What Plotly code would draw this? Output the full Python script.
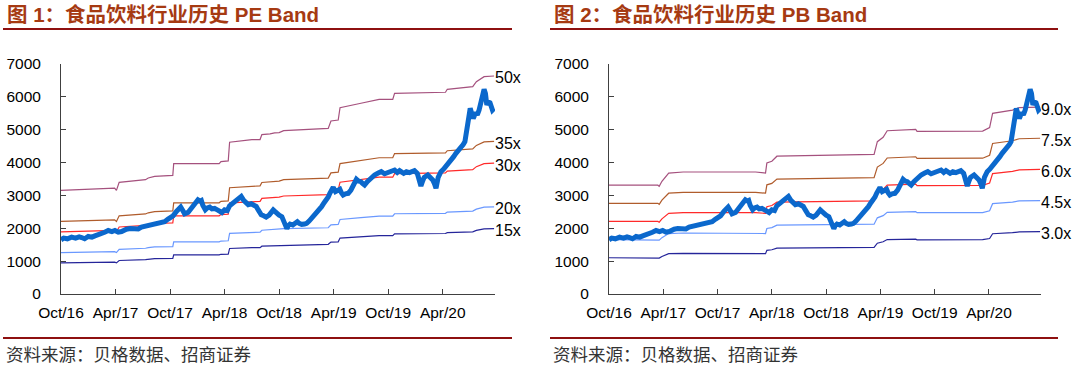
import plotly.graph_objects as go

# ---------------- data ----------------
# x values are months elapsed since Oct 2016
tick_months = [0, 6, 12, 18, 24, 30, 36, 42]
tick_labels = ["Oct/16", "Apr/17", "Oct/17", "Apr/18", "Oct/18", "Apr/19", "Oct/19", "Apr/20"]

idx_month = [0.0, 0.3, 0.7, 1.17, 1.6, 2.0, 2.27, 2.6, 3.0, 3.4, 3.73, 4.1, 4.46, 4.8, 5.2, 5.6, 5.93,
             6.3, 6.66, 7.0, 7.2, 7.6, 8.12, 8.5, 8.85, 9.2, 9.59, 10.0, 10.32, 10.7, 11.05, 11.4, 11.78,
             12.1, 12.33, 12.7, 13.17, 13.4, 13.6, 13.98, 14.2, 14.5, 14.8, 15.07, 15.3, 15.44, 15.6,
             15.88, 16.1, 16.36, 16.6, 16.9, 17.2, 17.45, 17.7, 18.0, 18.3, 18.55, 18.9, 19.28, 19.6,
             19.83, 20.1, 20.38, 20.6, 20.93, 21.2, 21.48, 21.7, 22.03, 22.3, 22.57, 22.9, 23.12, 23.35,
             23.56, 23.8, 24.0, 24.3, 24.5, 24.66, 24.85, 25.0, 25.2, 25.5, 25.75, 26.0, 26.2, 26.48,
             26.8, 27.03, 27.3, 27.58, 27.85, 28.12, 28.4, 28.67, 28.95, 29.22, 29.4, 29.58, 29.75,
             29.95, 30.2, 30.45, 30.68, 30.85, 31.04, 31.3, 31.6, 31.9, 32.2, 32.5, 32.7, 32.98, 33.2,
             33.4, 33.7, 33.96, 34.2, 34.5, 34.9, 35.24, 35.6, 35.97, 36.3, 36.7, 37.0, 37.25, 37.7,
             38.0, 38.34, 38.6, 38.89, 39.2, 39.4, 39.6, 39.8, 39.96, 40.35, 40.6, 40.9, 41.1, 41.26,
             41.5, 41.8, 42.1, 42.35, 42.6, 42.9, 43.2, 43.45, 43.7, 44.0, 44.25, 44.44, 44.6, 44.73,
             44.88, 45.02, 45.2, 45.35, 45.64, 45.8, 46.0, 46.15, 46.26, 46.4, 46.55, 46.7, 46.85, 47.0,
             47.2, 47.35, 47.47, 47.65]
idx_value = [1650, 1700, 1680, 1729, 1700, 1740, 1719, 1680, 1750, 1730, 1770, 1800, 1851, 1880, 1933,
             1900, 1933, 1880, 1902, 1960, 1973, 1990, 2004, 1980, 2035, 2060, 2055, 2090, 2106, 2130,
             2157, 2200, 2279, 2330, 2380, 2513, 2645, 2540, 2441, 2482, 2560, 2614, 2750, 2869, 2830,
             2848, 2700, 2564, 2620, 2645, 2590, 2604, 2560, 2513, 2480, 2564, 2540, 2686, 2760, 2818,
             2900, 2970, 2850, 2767, 2720, 2747, 2700, 2665, 2560, 2411, 2380, 2340, 2400, 2462, 2560,
             2506, 2435, 2400, 2354, 2250, 2100, 1990, 2080, 2130, 2100, 2151, 2201, 2150, 2120, 2130,
             2151, 2220, 2303, 2400, 2506, 2580, 2658, 2780, 2861, 2950, 3064, 3150, 3246, 3115, 3150,
             3186, 3080, 3013, 3050, 3064, 3165, 3300, 3490, 3440, 3419, 3360, 3317, 3420, 3490, 3560,
             3622, 3680, 3723, 3660, 3693, 3740, 3774, 3700, 3754, 3673, 3720, 3693, 3730, 3754, 3673,
             3500, 3287, 3450, 3551, 3622, 3571, 3470, 3350, 3216, 3551, 3723, 3800, 3875, 3960, 4078,
             4180, 4281, 4350, 4433, 4550, 4636, 4850, 5093, 5400, 5651, 5500, 5346, 5519, 5450, 5600,
             5750, 5904, 6050, 6229, 6100, 5752, 5850, 5823, 5700, 5600, 5651]

pe_month = [0.0, 5.5, 5.9, 6.1, 6.4, 9.3, 9.6, 10.3, 12.3, 12.4, 17.4, 17.6, 18.4, 18.55, 21.0, 21.9,
            22.1, 23.0, 23.5, 24.0, 24.5, 29.4, 29.7, 30.5, 30.7, 33.0, 35.0, 36.5, 36.7, 42.3, 42.5,
            45.3, 45.7, 46.55, 47.65]
pe_eps = [63.1, 64.5, 64.5, 63.1, 68.0, 69.6, 70.6, 71.6, 72.2, 79.3, 79.3, 80.6, 81.0, 92.4, 94.0,
          94.0, 97.0, 97.5, 98.1, 98.2, 99.4, 100.8, 105.3, 105.9, 113.4, 116.1, 118.5, 118.5, 122.1,
          122.8, 124.6, 126.2, 129.2, 132.3, 132.7]
pe_multiples = [50, 35, 30, 20, 15]
pe_labels = ["50x", "35x", "30x", "20x", "15x"]

pb_month = [0.0, 5.4, 5.55, 5.85, 6.6, 8.2, 16.2, 17.3, 17.45, 18.0, 18.56, 23.9, 29.3, 29.66, 30.3,
            30.75, 32.9, 33.9, 34.05, 41.3, 42.07, 42.4, 44.6, 45.35, 47.65]
pb_bps = [368, 368, 364, 381, 409, 412.5, 412.5, 409, 443, 449, 466, 468, 472, 515, 530, 552, 557, 557,
          550, 551, 563, 611, 622, 630, 632]
pb_multiples = [9.0, 7.5, 6.0, 4.5, 3.0]
pb_labels = ["9.0x", "7.5x", "6.0x", "4.5x", "3.0x"]

band_colors = ["#A5517E", "#B05C2C", "#FF2A2A", "#6A98FF", "#25259A"]
index_color = "#0B68CC"

titles = ["图 1：食品饮料行业历史 PE Band", "图 2：食品饮料行业历史 PB Band"]
source_text = "资料来源：贝格数据、招商证券"

# ---------------- figure ----------------
W, H = 1080, 367
fig = go.Figure()

panels = [
    dict(xa="x", ya="y", month=pe_month, base=pe_eps, mult=pe_multiples, labels=pe_labels),
    dict(xa="x2", ya="y2", month=pb_month, base=pb_bps, mult=pb_multiples, labels=pb_labels),
]

annotations = []
for p in panels:
    for m, lab, col in zip(p["mult"], p["labels"], band_colors):
        yv = [b * m for b in p["base"]]
        fig.add_trace(go.Scatter(x=p["month"], y=yv, mode="lines", xaxis=p["xa"], yaxis=p["ya"],
                                 line=dict(color=col, width=1.2), hoverinfo="skip", showlegend=False))
        annotations.append(dict(x=p["month"][-1], y=yv[-1], xref=p["xa"], yref=p["ya"], text=lab,
                                showarrow=False, xanchor="left", yanchor="middle", xshift=-1, yshift=-2,
                                font=dict(family="Liberation Sans, Arial", size=16, color="#000000")))
    fig.add_trace(go.Scatter(x=idx_month, y=idx_value, mode="lines", xaxis=p["xa"], yaxis=p["ya"],
                             line=dict(color=index_color, width=5), showlegend=False))

def px_x(v):
    return v / W

def px_y(v):
    return 1 - v / H

axis_font = dict(family="Liberation Sans, Arial", size=15.5, color="#000000")
xcommon = dict(range=[0, 47.75], tickmode="array", tickvals=tick_months, ticktext=tick_labels,
               ticks="inside", ticklen=5, tickcolor="#404040", showline=True, linecolor="#404040",
               linewidth=1, showgrid=False, zeroline=False, tickfont=axis_font, ticklabelstandoff=4,
               fixedrange=True, automargin=False)
ycommon = dict(range=[0, 7000], tickvals=[0, 1000, 2000, 3000, 4000, 5000, 6000, 7000],
               ticks="inside", ticklen=5, tickcolor="#404040", showline=True, linecolor="#404040",
               linewidth=1, showgrid=False, zeroline=False, tickfont=axis_font, ticklabelstandoff=16,
               fixedrange=True, automargin=False)

ydom = [px_y(294), px_y(64)]
fig.update_layout(
    width=W, height=H, autosize=False,
    margin=dict(l=0, r=0, t=0, b=0, pad=0, autoexpand=False),
    paper_bgcolor="white", plot_bgcolor="white", showlegend=False,
    xaxis=dict(domain=[px_x(61), px_x(495)], anchor="y", **xcommon),
    yaxis=dict(domain=ydom, anchor="x", **ycommon),
    xaxis2=dict(domain=[px_x(609), px_x(1041)], anchor="y2", **xcommon),
    yaxis2=dict(domain=ydom, anchor="x2", **ycommon),
)

title_font = dict(family="Liberation Sans, Arial, Noto Sans CJK SC", size=20.5, color="#A63A12")
src_font = dict(family="Noto Sans CJK SC", size=17.5, color="#333333")
for left, right, title in [(3, 512, titles[0]), (550, 1058, titles[1])]:
    annotations.append(dict(x=px_x(left + 2), y=px_y(14), xref="paper", yref="paper", text="<b>" + title + "</b>",
                            showarrow=False, xanchor="left", yanchor="middle", font=title_font))
    annotations.append(dict(x=px_x(left + 1), y=px_y(353), xref="paper", yref="paper", text=source_text,
                            showarrow=False, xanchor="left", yanchor="middle", font=src_font))
    for yy in (29, 338):
        fig.add_shape(type="line", xref="paper", yref="paper", x0=px_x(left), x1=px_x(right),
                      y0=px_y(yy), y1=px_y(yy), line=dict(color="#8E1010", width=2))

fig.update_layout(annotations=annotations)
fig.write_html("out.html", config={"displayModeBar": False},
               post_script="document.body.style.margin='0';document.body.style.overflow='hidden';")
